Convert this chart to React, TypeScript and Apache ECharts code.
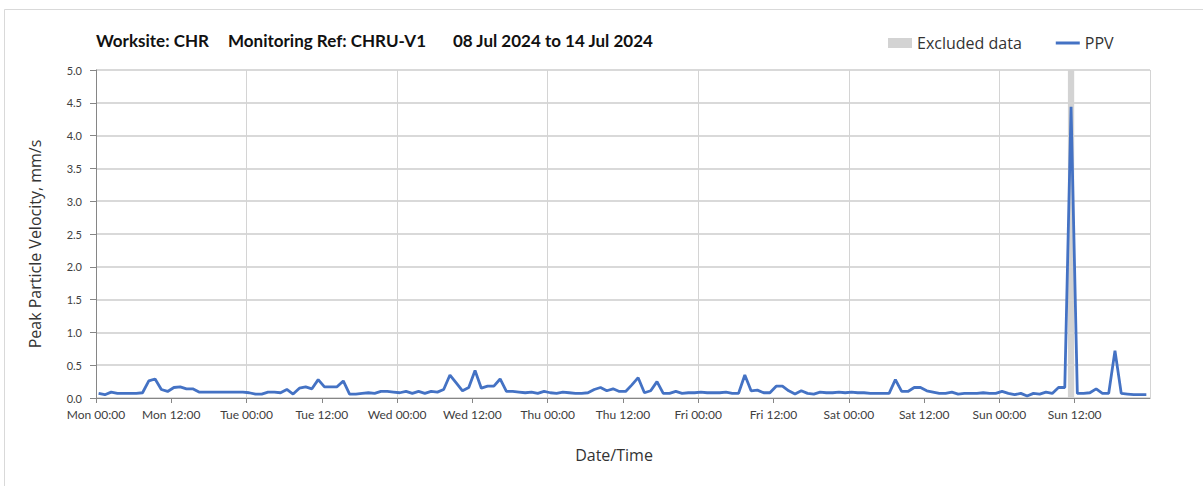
import React, { useEffect, useRef } from "react";
import * as echarts from "echarts";

// Hourly PPV readings (mm/s), first reading Mon 08 Jul 2024 00:25, last Sun 14 Jul 2024 23:25
const ppv: number[] = [
  0.07, 0.05, 0.09, 0.07, 0.07, 0.07, 0.07, 0.08, 0.26, 0.29, 0.13, 0.10,
  0.16, 0.17, 0.14, 0.14, 0.09, 0.09, 0.09, 0.09, 0.09, 0.09, 0.09, 0.09,
  0.08, 0.06, 0.06, 0.09, 0.09, 0.08, 0.13, 0.06, 0.15, 0.17, 0.14, 0.28,
  0.17, 0.17, 0.17, 0.26, 0.06, 0.06, 0.07, 0.08, 0.07, 0.10, 0.10, 0.09,
  0.08, 0.10, 0.07, 0.10, 0.07, 0.10, 0.09, 0.13, 0.35, 0.23, 0.11, 0.16,
  0.42, 0.15, 0.18, 0.18, 0.29, 0.10, 0.10, 0.09, 0.08, 0.09, 0.07, 0.10,
  0.08, 0.07, 0.09, 0.08, 0.07, 0.07, 0.08, 0.13, 0.16, 0.11, 0.14, 0.10,
  0.10, 0.20, 0.31, 0.08, 0.11, 0.25, 0.07, 0.07, 0.10, 0.07, 0.08, 0.08,
  0.09, 0.08, 0.08, 0.08, 0.09, 0.07, 0.07, 0.35, 0.11, 0.12, 0.08, 0.08,
  0.18, 0.18, 0.11, 0.06, 0.11, 0.07, 0.06, 0.09, 0.08, 0.08, 0.09, 0.08,
  0.09, 0.08, 0.08, 0.07, 0.07, 0.07, 0.07, 0.28, 0.10, 0.10, 0.16, 0.16,
  0.11, 0.09, 0.07, 0.07, 0.09, 0.06, 0.07, 0.07, 0.07, 0.08, 0.07, 0.07,
  0.10, 0.07, 0.05, 0.07, 0.03, 0.07, 0.06, 0.09, 0.07, 0.16, 0.16, 4.44,
  0.07, 0.07, 0.08, 0.14, 0.07, 0.07, 0.72, 0.07, 0.06, 0.05, 0.05, 0.05,
];

const HOUR = 3600 * 1000;
const firstReading = Date.UTC(2024, 6, 8, 0, 25);
const rangeStart = Date.UTC(2024, 6, 8, 0, 0);
const rangeEnd = Date.UTC(2024, 6, 15, 0, 0);

// Window of readings flagged as excluded
const excludedWindows: [number, number][] = [
  [Date.UTC(2024, 6, 14, 10, 55), Date.UTC(2024, 6, 14, 11, 55)],
];

const dayNames = ["Sun", "Mon", "Tue", "Wed", "Thu", "Fri", "Sat"];
const yTicks = { min: 0, max: 5, step: 0.5 };
const titleParts = [
  "Worksite: CHR",
  "Monitoring Ref: CHRU-V1",
  "08 Jul 2024 to 14 Jul 2024",
];

const pad2 = (n: number) => (n < 10 ? "0" + n : String(n));

export default function App() {
  const ref = useRef<HTMLDivElement>(null);

  useEffect(() => {
    if (!ref.current) return;
    const chart = echarts.init(ref.current, undefined, { renderer: "svg" });

    const seriesData = ppv.map((v, i) => [firstReading + i * HOUR, v]);
    const labelColor = "#404040";
    const titleStyle = {
      fontFamily: "Lato",
      fontWeight: "bold" as const,
      fontSize: 17,
      color: "#111",
    };

    chart.setOption({
      animation: false,
      backgroundColor: "#fff",
      title: [
        { text: titleParts[0], left: 96, top: 32, padding: 0, textStyle: titleStyle },
        { text: titleParts[1], left: 228, top: 32, padding: 0, textStyle: titleStyle },
        { text: titleParts[2], left: 453, top: 32, padding: 0, textStyle: titleStyle },
      ],
      graphic: [
        {
          type: "rect",
          shape: { x: 4.5, y: 9.5, width: 1220, height: 500 },
          style: { fill: "none", stroke: "#d9d9d9", lineWidth: 1 },
          silent: true,
        },
      ],
      legend: {
        left: 888,
        top: 35,
        padding: 0,
        itemWidth: 24,
        itemHeight: 10,
        itemGap: 34,
        textStyle: { fontFamily: "Open Sans", fontSize: 16, color: "#333" },
        data: [
          { name: "Excluded data", icon: "rect", itemStyle: { color: "#d3d3d3" } },
          { name: "PPV", icon: "path://M0,3.5L24,3.5L24,6.5L0,6.5Z", itemStyle: { color: "#4472C4" } },
        ],
      },
      grid: { left: 96, right: 53, top: 70, bottom: 88, containLabel: false },
      xAxis: [
        {
          type: "value",
          min: rangeStart,
          max: rangeEnd,
          interval: 12 * HOUR,
          name: "Date/Time",
          nameLocation: "middle",
          nameGap: 49,
          nameTextStyle: {
            fontFamily: "Open Sans",
            fontSize: 16,
            color: "#333",
            padding: [0, 18, 0, 0],
          },
          axisLine: { show: true, lineStyle: { color: "#868686", width: 1 } },
          axisTick: { show: true, length: 5, lineStyle: { color: "#868686" } },
          splitLine: { show: false },
          axisLabel: {
            showMaxLabel: false,
            margin: 10,
            fontFamily: "Lato",
            fontSize: 12,
            color: labelColor,
            formatter: (v: number) => {
              const d = new Date(v);
              return `${dayNames[d.getUTCDay()]} ${pad2(d.getUTCHours())}:00`;
            },
          },
        },
        {
          // daily vertical gridlines
          type: "value",
          min: rangeStart,
          max: rangeEnd,
          interval: 24 * HOUR,
          position: "bottom",
          axisLine: { show: false },
          axisTick: { show: false },
          axisLabel: { show: false },
          splitLine: { show: true, lineStyle: { color: "#d4d4d4", width: 1 } },
        },
      ],
      yAxis: {
        type: "value",
        min: yTicks.min,
        max: yTicks.max,
        interval: yTicks.step,
        name: "Peak Particle Velocity, mm/s",
        nameLocation: "middle",
        nameGap: 53,
        nameTextStyle: {
          fontFamily: "Open Sans",
          fontSize: 16,
          color: "#333",
          padding: [0, 20, 0, 0],
        },
        axisLine: { show: true, lineStyle: { color: "#868686", width: 1 } },
        axisTick: { show: true, length: 6, lineStyle: { color: "#868686" } },
        splitLine: { show: true, lineStyle: { color: "#d9d9d9", width: 2 } },
        axisLabel: {
          margin: 14,
          fontFamily: "Lato",
          fontSize: 11,
          color: labelColor,
          formatter: (v: number) => v.toFixed(1),
        },
      },
      series: [
        {
          name: "Excluded data",
          type: "line",
          data: [],
          symbol: "none",
          itemStyle: { color: "#d3d3d3" },
          lineStyle: { color: "#d3d3d3" },
          markArea: {
            silent: true,
            itemStyle: { color: "#d3d3d3" },
            data: excludedWindows.map(([a, b]) => [{ xAxis: a }, { xAxis: b }]),
          },
        },
        {
          name: "PPV",
          type: "line",
          data: seriesData,
          symbol: "none",
          showSymbol: false,
          itemStyle: { color: "#4472C4" },
          lineStyle: { color: "#4472C4", width: 2.8 },
          z: 5,
        },
      ],
    });

    return () => chart.dispose();
  }, []);

  return (
    <div
      ref={ref}
      style={{ position: "absolute", left: 0, top: 0, width: 1203, height: 486 }}
    />
  );
}
